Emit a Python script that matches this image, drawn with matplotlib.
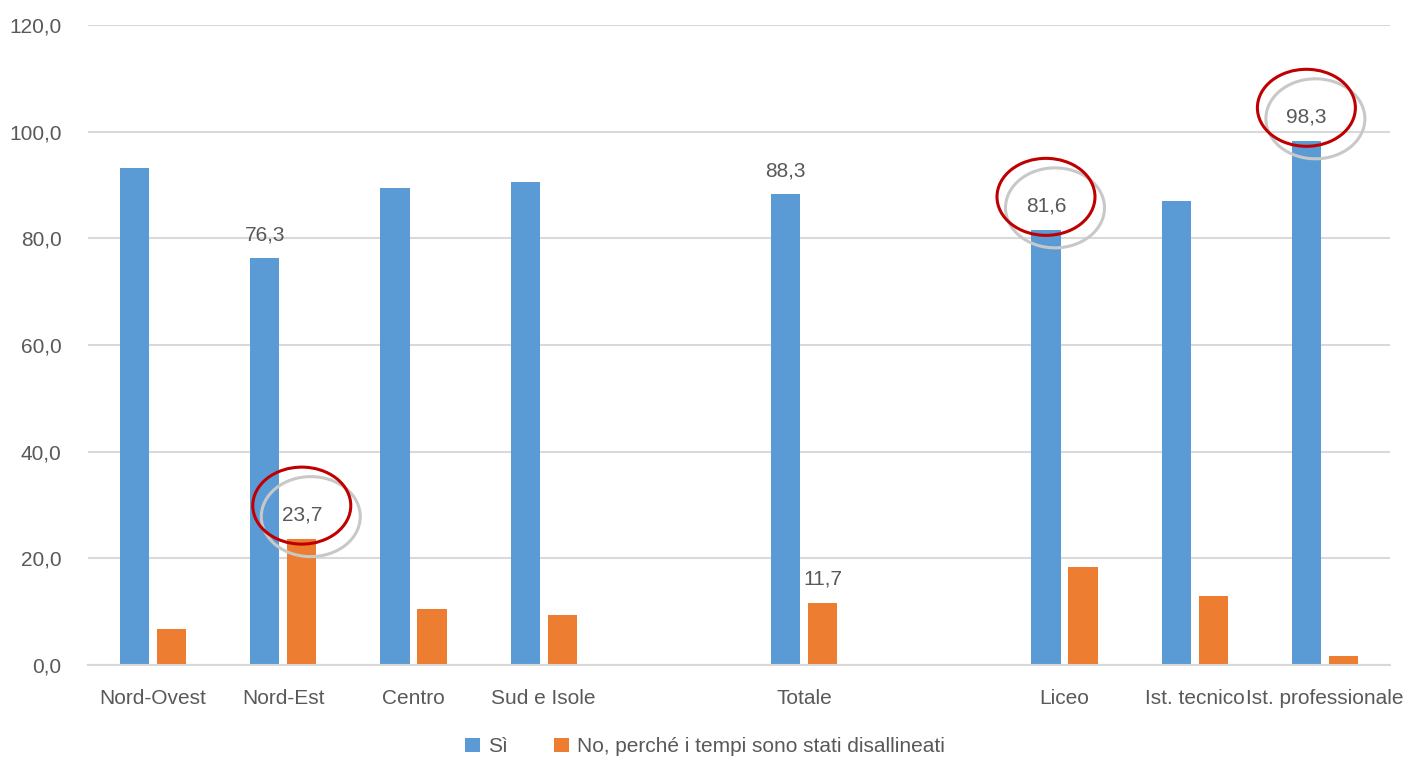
import matplotlib
matplotlib.use("Agg")
import matplotlib.pyplot as plt
import numpy as np
from matplotlib.patches import Ellipse
from matplotlib.transforms import ScaledTranslation

plt.rcParams["font.family"] = ["Liberation Sans", "DejaVu Sans"]

# categories (empty strings are the gaps between groups)
categories = ["Nord-Ovest", "Nord-Est", "Centro", "Sud e Isole", "",
              "Totale", "", "Liceo", "Ist. tecnico", "Ist. professionale"]
si_values = [93.2, 76.3, 89.5, 90.6, np.nan, 88.3, np.nan, 81.6, 87.0, 98.3]
no_values = [6.8, 23.7, 10.5, 9.4, np.nan, 11.7, np.nan, 18.4, 13.0, 1.7]
series_names = ["Sì", "No, perché i tempi sono stati disallineati"]

# which bars show a value label: (series index, category index)
labelled = [(0, 1), (1, 1), (0, 5), (1, 5), (0, 7), (0, 9)]
# labels that are circled by hand
circled = [(1, 1), (0, 7), (0, 9)]

BLUE = "#5B9BD5"
ORANGE = "#ED7D31"
TEXT = "#595959"
GRID = "#D9D9D9"

fig = plt.figure(figsize=(14.1, 7.6), dpi=100)
ax = fig.add_axes([0.0624, 0.125, 0.9234, 0.842])

x = np.arange(len(categories))
width = 0.225
offset = 0.142
bars_si = ax.bar(x - offset, si_values, width, color=BLUE, label=series_names[0], zorder=2)
bars_no = ax.bar(x + offset, no_values, width, color=ORANGE, label=series_names[1], zorder=2)
series = [(bars_si, si_values), (bars_no, no_values)]

ax.set_xlim(-0.5, len(categories) - 0.5)
ax.set_ylim(0, 120)
ax.set_yticks(np.arange(0, 121, 20))
ax.set_yticklabels([f"{v:.1f}".replace(".", ",") for v in np.arange(0, 121, 20)])
ax.set_xticks(x)
ax.set_xticklabels(categories)
ax.yaxis.grid(True, color=GRID, linewidth=1.5, zorder=0)
ax.set_axisbelow(True)
for side in ["top", "right", "left"]:
    ax.spines[side].set_visible(False)
ax.spines["bottom"].set_color(GRID)
ax.spines["bottom"].set_linewidth(1.5)
ax.tick_params(axis="both", length=0, labelsize=15, colors=TEXT)
ax.tick_params(axis="y", pad=19)
ax.tick_params(axis="x", pad=17)

for s, i in labelled:
    bars, vals = series[s]
    bar = bars[i]
    cx = bar.get_x() + bar.get_width() / 2
    ax.annotate(f"{vals[i]:.1f}".replace(".", ","), (cx, vals[i]),
                xytext=(0, 10), textcoords="offset points",
                ha="center", va="bottom", fontsize=15, color=TEXT, zorder=4)
    if (s, i) in circled:
        # hand-drawn style ellipse with a grey shadow, offsets in inches from the bar top
        tr = fig.dpi_scale_trans + ScaledTranslation(cx, vals[i], ax.transData)
        ax.add_patch(Ellipse((0.09, 0.22), 0.99, 0.80, transform=tr, fill=False,
                             edgecolor="#C8C8C8", linewidth=2.2, zorder=3, clip_on=False))
        ax.add_patch(Ellipse((0.0, 0.33), 0.98, 0.77, transform=tr, fill=False,
                             edgecolor="#C00000", linewidth=2.2, zorder=3, clip_on=False))

leg = fig.legend(loc="lower center", bbox_to_anchor=(0.5, -0.02), ncol=2, frameon=False,
                 fontsize=15, handlelength=0.7, handleheight=0.7, handletextpad=0.4,
                 columnspacing=2.2)
for t in leg.get_texts():
    t.set_color(TEXT)

fig.savefig("out.png", dpi=100)
